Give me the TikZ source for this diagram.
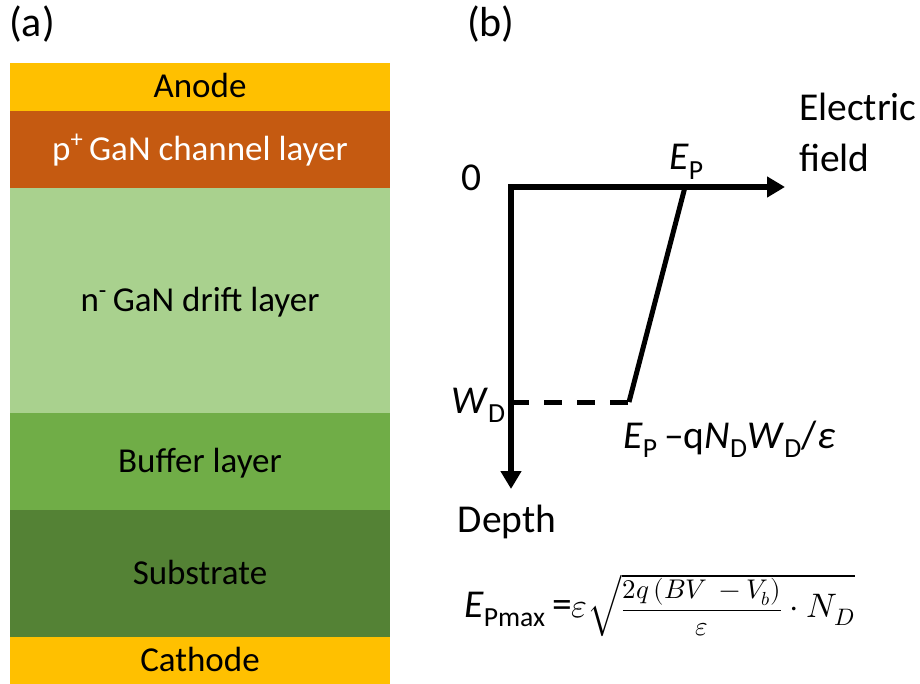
\documentclass[tikz,border=0pt]{standalone}
\usepackage{fontspec}
\usepackage{unicode-math}
\setmainfont{Carlito}
\setmathfont{Latin Modern Math}
\usetikzlibrary{arrows.meta,positioning}
\definecolor{cElec}{RGB}{255,192,0}
\definecolor{cChan}{RGB}{197,90,17}
\definecolor{cDrift}{RGB}{169,209,142}
\definecolor{cBuf}{RGB}{112,173,71}
\definecolor{cSub}{RGB}{84,130,53}
\newcommand{\lfont}{\fontsize{35}{42}\selectfont}
\newcommand{\rfont}{\fontsize{39.5}{47}\selectfont}
\newcommand{\mfont}{\fontsize{34}{40}\selectfont}
\tikzset{
  layer/.style={minimum width=380pt, inner sep=0pt, outer sep=0pt,
                text height=22pt, text depth=0pt, font=\lfont},
  lbl/.style={font=\rfont, inner sep=0pt},
  axis/.style={line width=6.5pt, miter limit=4,
               {Triangle[length=18pt,width=20pt]}-{Triangle[length=18pt,width=20pt]}},
  fld/.style={line width=5pt},
}

\begin{document}
\begin{tikzpicture}[x=1pt,y=-1pt]
  \useasboundingbox (0,0) rectangle (920,684);

  % (a) layer stack
  \node[lbl, anchor=base west, font=\fontsize{42}{50}\selectfont] (la) at (9,37) {(a)};
  \node[layer, fill=cElec, minimum height=48pt, anchor=north west] (anode) at (10,63) {Anode};
  \node[layer, fill=cChan, text=white, minimum height=77pt, below=0pt of anode] (chan) {p\textsuperscript{+}\,GaN channel layer};
  \node[layer, fill=cDrift, minimum height=225pt, below=0pt of chan] (drift) {n\textsuperscript{-}\,GaN drift layer};
  \node[layer, fill=cBuf, minimum height=97pt, below=0pt of drift] (buf) {Buffer layer};
  \node[layer, fill=cSub, minimum height=127pt, below=0pt of buf] (sub) {Substrate};
  \node[layer, fill=cElec, minimum height=47pt, below=0pt of sub] (cathode) {Cathode};

  % (b) field profile
  \node[lbl, anchor=base west, font=\fontsize{42}{50}\selectfont] (lb) at (467,37) {(b)};
  \coordinate (O) at (511,187);
  \coordinate (xtip) at (785,187);
  \coordinate (ytip) at (511,489);
  \coordinate (ep) at (685,187);
  \coordinate (ew) at (629,402);
  \coordinate (wd) at (511,402);

  \draw[axis] (ytip) -- (O) -- (xtip);
  \draw[fld] (ep) -- (ew);
  \draw[fld, dash pattern=on 18pt off 15pt] (wd) -- (ew);

  \node[lbl, anchor=base west] (zero) at (461,191) {0};
  \node[lbl, anchor=base west] (eplbl) at (669,170) {\textit{E}\textsubscript{P}};
  \node[lbl, anchor=north west, align=left] (xlbl) at (799,93) {Electric\\[4pt]field};
  \node[lbl, anchor=base west] (wdlbl) at (451,413) {\textit{W}\textsubscript{D}};
  \node[lbl, anchor=base west] (ewlbl) at (623,448) {\textit{E}\textsubscript{P}\,–q\textit{N}\textsubscript{D}\textit{W}\textsubscript{D}/\textit{ε}};
  \node[lbl, anchor=base] (ylbl) at (507,532) {Depth};

  % peak field
  \node[lbl, anchor=base west] (emax) at (464,617)
    {\textit{E}\textsubscript{Pmax}\,={\mfont$\varepsilon\sqrt{\hbox{\fontsize{27}{32}\selectfont$\displaystyle\frac{2q\,(BV\:-V_b)}{\varepsilon}$}\cdot N_D}$}};
\end{tikzpicture}
\end{document}
